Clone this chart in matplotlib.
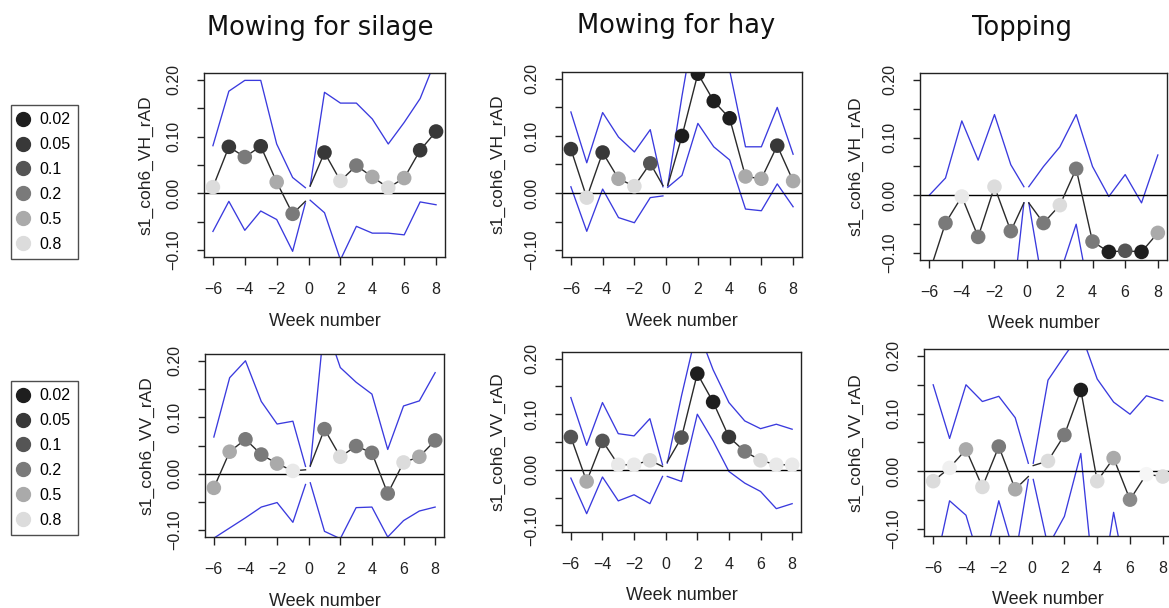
import numpy as np
import matplotlib
matplotlib.use("Agg")
import matplotlib.pyplot as plt
from matplotlib.lines import Line2D

plt.rcParams['font.family'] = ['Liberation Sans', 'DejaVu Sans']

# week positions; the two entries around 0 are the end of the pre series and start of the post series
weeks = [-6, -5, -4, -3, -2, -1, -0.2, 0.1, 1, 2, 3, 4, 5, 6, 7, 8]
n_pre = 7

# Mowing for silage, VH
silage_vh_mean = [0.011, 0.082, 0.064, 0.083, 0.020, -0.036, -0.014, 0.013, 0.072, 0.022, 0.049, 0.029, 0.010, 0.027, 0.076, 0.109]
silage_vh_p = [0.8, 0.05, 0.2, 0.05, 0.5, 0.2, np.nan, np.nan, 0.05, 0.8, 0.2, 0.5, 0.8, 0.5, 0.05, 0.05]
silage_vh_upper = [0.084, 0.180, 0.199, 0.199, 0.087, 0.028, 0.010, 0.013, 0.178, 0.159, 0.159, 0.131, 0.087, 0.125, 0.167, 0.237]
silage_vh_lower = [-0.067, -0.014, -0.065, -0.031, -0.046, -0.102, -0.017, -0.012, -0.034, -0.117, -0.058, -0.070, -0.070, -0.073, -0.015, -0.020]

# Mowing for hay, VH
hay_vh_mean = [0.077, -0.008, 0.071, 0.025, 0.012, 0.052, 0.013, 0.013, 0.100, 0.209, 0.161, 0.131, 0.029, 0.025, 0.083, 0.021]
hay_vh_p = [0.05, 0.8, 0.05, 0.5, 0.8, 0.1, np.nan, np.nan, 0.02, 0.02, 0.02, 0.02, 0.5, 0.5, 0.05, 0.5]
hay_vh_upper = [0.142, 0.053, 0.141, 0.098, 0.072, 0.111, 0.011, 0.013, 0.170, 0.330, 0.280, 0.215, 0.081, 0.081, 0.150, 0.068]
hay_vh_lower = [0.011, -0.067, 0.007, -0.043, -0.052, -0.008, -0.005, 0.010, 0.031, 0.122, 0.081, 0.058, -0.028, -0.031, 0.016, -0.024]

# Topping, VH
top_vh_mean = [-0.135, -0.048, -0.002, -0.072, 0.015, -0.062, -0.013, -0.013, -0.048, -0.017, 0.046, -0.080, -0.098, -0.096, -0.098, -0.065]
top_vh_p = [0.2, 0.2, 0.9, 0.2, 0.8, 0.2, np.nan, np.nan, 0.2, 0.8, 0.2, 0.2, 0.02, 0.1, 0.02, 0.5]
top_vh_upper = [0.0, 0.030, 0.129, 0.061, 0.140, 0.053, 0.015, 0.015, 0.050, 0.084, 0.140, 0.050, -0.002, 0.036, -0.013, 0.070]
top_vh_lower = [-0.22, -0.20, -0.24, -0.20, -0.23, -0.218, -0.013, -0.013, -0.163, -0.136, -0.050, -0.200, -0.20, -0.19, -0.22, -0.18]

# Mowing for silage, VV
silage_vv_mean = [-0.025, 0.039, 0.061, 0.034, 0.018, 0.005, 0.007, 0.014, 0.079, 0.030, 0.049, 0.037, -0.035, 0.020, 0.030, 0.059]
silage_vv_p = [0.5, 0.5, 0.2, 0.2, 0.5, 0.9, np.nan, np.nan, 0.2, 0.8, 0.2, 0.2, 0.2, 0.8, 0.5, 0.2]
silage_vv_upper = [0.065, 0.170, 0.200, 0.128, 0.088, 0.093, 0.013, 0.013, 0.270, 0.188, 0.162, 0.141, 0.043, 0.120, 0.129, 0.179]
silage_vv_lower = [-0.114, -0.096, -0.078, -0.059, -0.051, -0.086, -0.019, -0.016, -0.102, -0.115, -0.060, -0.059, -0.112, -0.083, -0.066, -0.059]

# Mowing for hay, VV
hay_vv_mean = [0.059, -0.021, 0.052, 0.009, 0.009, 0.017, 0.006, 0.014, 0.058, 0.173, 0.122, 0.059, 0.033, 0.017, 0.009, 0.009]
hay_vv_p = [0.1, 0.5, 0.1, 0.9, 0.9, 0.8, np.nan, np.nan, 0.1, 0.02, 0.02, 0.05, 0.2, 0.8, 0.9, 0.9]
hay_vv_upper = [0.130, 0.044, 0.121, 0.065, 0.061, 0.092, 0.009, 0.012, 0.133, 0.255, 0.180, 0.121, 0.088, 0.074, 0.082, 0.073]
hay_vv_lower = [-0.015, -0.079, -0.013, -0.056, -0.045, -0.061, -0.012, -0.012, -0.021, 0.100, 0.052, -0.003, -0.024, -0.039, -0.070, -0.061]

# Topping, VV
top_vv_mean = [-0.017, 0.006, 0.038, -0.027, 0.043, -0.031, -0.009, 0.010, 0.018, 0.063, 0.141, -0.017, 0.023, -0.049, -0.005, -0.009]
top_vv_p = [0.8, 0.95, 0.5, 0.8, 0.2, 0.5, np.nan, np.nan, 0.8, 0.2, 0.02, 0.8, 0.5, 0.3, 1.0, 0.8]
top_vv_upper = [0.150, 0.057, 0.150, 0.121, 0.130, 0.093, 0.014, 0.014, 0.158, 0.200, 0.240, 0.160, 0.120, 0.099, 0.131, 0.122]
top_vv_lower = [-0.182, -0.051, -0.076, -0.172, -0.051, -0.149, -0.014, -0.014, -0.130, -0.078, 0.031, -0.250, -0.071, -0.217, -0.20, -0.22]

# p-value legend
p_levels = [0.02, 0.05, 0.1, 0.2, 0.5, 0.8]
p_labels = ["0.02", "0.05", "0.1", "0.2", "0.5", "0.8"]
grey_p = [0.02, 0.05, 0.1, 0.2, 0.5, 0.8, 1.0]
grey_val = [30, 56, 85, 122, 170, 220, 246]

titles = ["Mowing for silage", "Mowing for hay", "Topping"]


def grey(p):
    g = np.interp(p, grey_p, grey_val) / 255.0
    return (g, g, g)


W, H = 1169, 608
fig = plt.figure(figsize=(W / 100, H / 100), dpi=100)


def px_axes(l, r, t, b):
    return fig.add_axes([l / W, 1 - b / H, (r - l) / W, (b - t) / H])


blue = '#3a3ade'
panels = [
    ((204, 445, 73, 257), silage_vh_mean, silage_vh_p, silage_vh_upper, silage_vh_lower, "s1_coh6_VH_rAD", 58),
    ((562, 802, 72, 257), hay_vh_mean, hay_vh_p, hay_vh_upper, hay_vh_lower, "s1_coh6_VH_rAD", 64),
    ((920, 1167, 73, 260), top_vh_mean, top_vh_p, top_vh_upper, top_vh_lower, "s1_coh6_VH_rAD", 64),
    ((205, 444, 354, 537), silage_vv_mean, silage_vv_p, silage_vv_upper, silage_vv_lower, "s1_coh6_VV_rAD", 58),
    ((562, 801, 352, 532), hay_vv_mean, hay_vv_p, hay_vv_upper, hay_vv_lower, "s1_coh6_VV_rAD", 64),
    ((924, 1172, 349, 536), top_vv_mean, top_vv_p, top_vv_upper, top_vv_lower, "s1_coh6_VV_rAD", 68),
]

x = np.array(weeks)
for box, mean, pv, upper, lower, ylab, yoff in panels:
    ax = px_axes(*box)
    mean, pv = np.array(mean), np.array(pv)
    upper, lower = np.array(upper), np.array(lower)
    for seg in (slice(0, n_pre), slice(n_pre, None)):
        ax.plot(x[seg], upper[seg], color=blue, lw=0.95)
        ax.plot(x[seg], lower[seg], color=blue, lw=0.95)
        ax.plot(x[seg], mean[seg], color='#2a2a2a', lw=1.0, zorder=3)
    ax.axhline(0, color='black', lw=1.0, zorder=2)
    ok = ~np.isnan(pv)
    ax.scatter(x[ok], mean[ok], s=110, c=[grey(p) for p in pv[ok]], linewidths=0, zorder=4)

    ax.set_xlim(-6.56, 8.56)
    ax.set_ylim(-0.112, 0.212)
    ax.set_xticks(range(-6, 9, 2))
    ax.set_yticks([-0.1, -0.05, 0, 0.05, 0.1, 0.15, 0.2])
    ax.set_yticklabels(['\u22120.10', '', '0.00', '', '0.10', '', '0.20'])
    ax.tick_params(axis='x', length=6, width=1, pad=12, labelsize=11.5, colors='#222222')
    ax.tick_params(axis='y', length=5, width=1, pad=17, labelsize=11.5, colors='#222222')
    for lab in ax.get_yticklabels():
        lab.set_rotation(90)
        lab.set_ha('center')
        lab.set_va('center')
    for sp in ax.spines.values():
        sp.set_linewidth(1.0)
        sp.set_color('#222222')
    w = box[1] - box[0]
    h = box[3] - box[2]
    ax.set_ylabel(ylab, fontsize=12.5, va='center', color='#222222')
    ax.yaxis.set_label_coords(-yoff / w, 0.5)
    ax.set_xlabel("Week number", fontsize=13, va='center', color='#222222')
    ax.xaxis.set_label_coords(0.5, -64 / h)

# column titles
for title, cx, base in zip(titles, [320, 676, 1022], [35, 33, 35]):
    fig.text(cx / W, 1 - base / H, title, ha='center', va='baseline',
             fontsize=18.5, family='DejaVu Sans', color='#111111')

# p-value legends
handles = [Line2D([], [], ls='none', marker='o', ms=10, mfc=grey(p), mec=grey(p)) for p in p_levels]
for top in [105, 381]:
    leg = fig.legend(handles, p_labels, loc='upper left', bbox_to_anchor=(11 / W, 1 - top / H),
                     borderaxespad=0, frameon=True, fancybox=False, fontsize=11.5,
                     handlelength=0.6, handletextpad=0.75, labelspacing=0.62, borderpad=0.45)
    leg.get_frame().set_edgecolor('#222222')
    leg.get_frame().set_linewidth(1.0)

fig.savefig("out.png", dpi=100)
